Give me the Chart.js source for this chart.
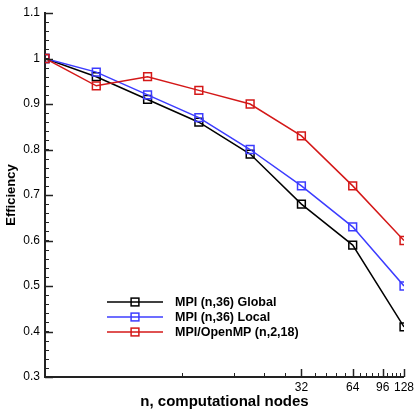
<!DOCTYPE html>
<html>
<head>
<meta charset="utf-8">
<script src="https://cdn.jsdelivr.net/npm/chart.js@4/dist/chart.umd.min.js"></script>
<style>
  html, body { margin: 0; padding: 0; background: #fff; }
  #wrap { width: 417px; height: 409px; position: relative; }
</style>
</head>
<body>
<div id="wrap"><canvas id="effChart"></canvas></div>
<script>
// data
const nodes = [1, 2, 4, 8, 16, 32, 64, 128];
const mpiGlobal = [1.00, 0.96, 0.91, 0.86, 0.79, 0.68, 0.59, 0.41];
const mpiLocal  = [1.00, 0.97, 0.92, 0.87, 0.80, 0.72, 0.63, 0.50];
const hybrid    = [1.00, 0.94, 0.96, 0.93, 0.90, 0.83, 0.72, 0.60];
const seriesNames = ['MPI (n,36) Global', 'MPI (n,36) Local', 'MPI/OpenMP (n,2,18)'];
const seriesColors = ['#000000', '#3c3cff', '#d41818'];

// axis ticks
const xMajor = [32, 64, 96, 128];
const xMinorStep = 6.4;
const yMajor = [0.3, 0.4, 0.5, 0.6, 0.7, 0.8, 0.9, 1.0, 1.1];
const yMinorStep = 0.02;

const FONT = "'Liberation Sans', Arial, Helvetica, sans-serif";
const axisColor = '#222';

function makeSet(i, vals) {
  return {
    label: seriesNames[i],
    data: nodes.map((n, k) => ({ x: n, y: vals[k] })),
    borderColor: seriesColors[i],
    backgroundColor: 'rgba(0,0,0,0)',
    borderWidth: 1.5,
    pointStyle: 'rect',
    pointRadius: 5.5,
    pointBorderWidth: 1.5,
    pointBackgroundColor: 'rgba(0,0,0,0)',
    pointBorderColor: seriesColors[i],
    tension: 0,
    order: 2 - i
  };
}

// inward tick marks, drawn with the scales' own pixel mapping
const innerTicks = {
  id: 'innerTicks',
  afterDatasetsDraw(chart) {
    const ctx = chart.ctx;
    const xs = chart.scales.x, ys = chart.scales.y;
    const bottom = ys.bottom, left = xs.left;
    ctx.save();
    ctx.strokeStyle = axisColor;
    // x minors
    ctx.lineWidth = 1;
    for (let v = xMinorStep; v < 128.01; v += xMinorStep) {
      const px = Math.round(xs.getPixelForValue(v)) + 0.5;
      ctx.beginPath(); ctx.moveTo(px, bottom); ctx.lineTo(px, bottom - 4); ctx.stroke();
    }
    ctx.lineWidth = 1.5;
    xMajor.forEach(v => {
      const px = Math.round(xs.getPixelForValue(v)) + 0.5;
      ctx.beginPath(); ctx.moveTo(px, bottom); ctx.lineTo(px, bottom - 8); ctx.stroke();
    });
    // y minors
    ctx.lineWidth = 1;
    for (let v = 0.3; v < 1.1001; v += yMinorStep) {
      const py = Math.round(ys.getPixelForValue(v)) + 0.5;
      ctx.beginPath(); ctx.moveTo(left, py); ctx.lineTo(left + 4, py); ctx.stroke();
    }
    ctx.lineWidth = 1.5;
    yMajor.forEach(v => {
      const py = Math.round(ys.getPixelForValue(v)) + 0.5;
      ctx.beginPath(); ctx.moveTo(left, py); ctx.lineTo(left + 8, py); ctx.stroke();
    });
    ctx.restore();
  }
};

// legend inside the plot: line + square marker + bold label
const lineLegend = {
  id: 'lineLegend',
  afterDraw(chart) {
    const ctx = chart.ctx;
    const x0 = 107, x1 = 163, tx = 175, y0 = 302, dy = 15;
    ctx.save();
    chart.data.datasets.forEach((ds, i) => {
      const y = y0 + i * dy;
      ctx.strokeStyle = ds.borderColor;
      ctx.lineWidth = 1.5;
      ctx.beginPath(); ctx.moveTo(x0, y); ctx.lineTo(x1, y); ctx.stroke();
      const mx = (x0 + x1) / 2, h = 3.9;
      ctx.strokeRect(mx - h, y - h, 2 * h, 2 * h);
      ctx.fillStyle = '#000';
      ctx.font = 'bold 12.5px ' + FONT;
      ctx.textBaseline = 'middle';
      ctx.textAlign = 'left';
      ctx.fillText(ds.label, tx, y + 0.5);
    });
    ctx.restore();
  }
};

const ctx = document.getElementById('effChart').getContext('2d');
new Chart(ctx, {
  type: 'line',
  data: {
    datasets: [makeSet(0, mpiGlobal), makeSet(1, mpiLocal), makeSet(2, hybrid)]
  },
  options: {
    responsive: true,
    maintainAspectRatio: false,
    animation: false,
    layout: { padding: { top: 13, right: 10, left: 0, bottom: 0 } },
    plugins: {
      legend: { display: false },
      tooltip: { enabled: false }
    },
    scales: {
      x: {
        type: 'logarithmic',
        min: 1,
        max: 128,
        afterBuildTicks: s => { s.ticks = xMajor.map(v => ({ value: v })); },
        afterFit: s => { s.height = 32; },
        ticks: {
          autoSkip: false,
          maxRotation: 0,
          padding: 3,
          color: '#000',
          font: { family: FONT, size: 12 },
          callback: v => String(v)
        },
        grid: { drawOnChartArea: false, drawTicks: false },
        border: { display: true, color: axisColor, width: 2 },
        title: {
          display: true,
          text: 'n, computational nodes',
          color: '#000',
          font: { family: FONT, size: 15, weight: 'bold', lineHeight: 1 },
          padding: { top: 2, bottom: 0 }
        }
      },
      y: {
        min: 0.3,
        max: 1.1,
        afterBuildTicks: s => { s.ticks = yMajor.map(v => ({ value: v })); },
        afterFit: s => { s.width = 45; },
        ticks: {
          padding: 5,
          color: '#000',
          font: { family: FONT, size: 12 },
          callback: v => String(Number(v.toFixed(1)))
        },
        grid: { drawOnChartArea: false, drawTicks: false },
        border: { display: true, color: axisColor, width: 2 },
        title: {
          display: true,
          text: 'Efficiency',
          color: '#000',
          font: { family: FONT, size: 13, weight: 'bold', lineHeight: 1 },
          padding: { top: 5, bottom: 0 }
        }
      }
    }
  },
  plugins: [innerTicks, lineLegend]
});
</script>
</body>
</html>
